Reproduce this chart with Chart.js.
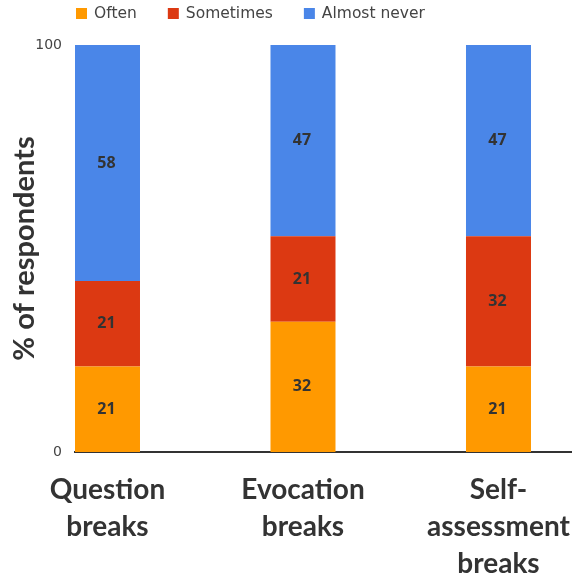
<!DOCTYPE html>
<html>
<head>
<meta charset="utf-8">
<script src="https://cdn.jsdelivr.net/npm/chart.js@4"></script>
<style>
  body { margin: 0; background: #fff; }
</style>
</head>
<body>
<canvas id="chart" width="572" height="576"></canvas>
<script>
const categories = [["Question", "breaks"], ["Evocation", "breaks"], ["Self-", "assessment", "breaks"]];
const seriesNames = ["Often", "Sometimes", "Almost never"];
const often = [21, 32, 21];
const sometimes = [21, 21, 32];
const almostNever = [58, 47, 47];
const yTicks = [0, 100];

const colors = ["#ff9900", "#dc3912", "#4a86e8"];
const labelFont = "Lato, 'Open Sans', sans-serif";

function toPoints(values) {
    return values.map((v, i) => ({ x: i, y: v }));
}

// segment values written in the middle of each bar piece
const valueLabels = {
    id: "valueLabels",
    afterDatasetsDraw(chart) {
        const ctx = chart.ctx;
        ctx.save();
        ctx.font = "bold 16px 'Open Sans', sans-serif";
        ctx.fillStyle = "#333";
        ctx.textAlign = "center";
        ctx.textBaseline = "middle";
        chart.data.datasets.forEach((ds, i) => {
            chart.getDatasetMeta(i).data.forEach((bar, j) => {
                const p = bar.getCenterPoint();
                ctx.fillText(ds.data[j].y, p.x - 1, p.y);
            });
        });
        ctx.restore();
    }
};

// legend at top left, drawn by hand so it can start at the plot's left edge
const topLegend = {
    id: "topLegend",
    afterDraw(chart) {
        const ctx = chart.ctx;
        ctx.save();
        ctx.font = "15.5px 'DejaVu Sans', sans-serif";
        ctx.textBaseline = "middle";
        let x = chart.chartArea.left + 1;
        chart.data.datasets.forEach((ds) => {
            ctx.fillStyle = ds.backgroundColor;
            ctx.fillRect(x, 8, 11, 11);
            ctx.fillStyle = "#444";
            ctx.fillText(ds.label, x + 18, 14);
            x += 18 + ctx.measureText(ds.label).width + 31;
        });
        ctx.restore();
    }
};

new Chart(document.getElementById("chart"), {
    type: "bar",
    data: {
        datasets: [
            { label: seriesNames[0], data: toPoints(often), backgroundColor: colors[0] },
            { label: seriesNames[1], data: toPoints(sometimes), backgroundColor: colors[1] },
            { label: seriesNames[2], data: toPoints(almostNever), backgroundColor: colors[2] }
        ]
    },
    options: {
        responsive: false,
        animation: false,
        layout: { padding: { top: 45, right: 0, left: 0, bottom: 0 } },
        datasets: {
            bar: { barPercentage: 0.3325, categoryPercentage: 1 }
        },
        scales: {
            x: {
                type: "linear",
                stacked: true,
                offset: false,
                min: -0.1662,
                max: 2.376,
                grid: { display: false },
                border: { display: true, color: "#333", width: 2 },
                afterBuildTicks: function(scale) {
                    scale.ticks = categories.map((c, i) => ({ value: i }));
                },
                afterFit: function(scale) {
                    scale.height = 124;
                    scale.paddingLeft = 0;
                    scale.paddingRight = 0;
                },
                ticks: {
                    autoSkip: false,
                    maxRotation: 0,
                    padding: 12,
                    color: "#333",
                    font: { family: labelFont, size: 28, weight: "bold", lineHeight: 1.31 },
                    callback: function(value) {
                        return categories[value];
                    }
                }
            },
            y: {
                stacked: true,
                min: 0,
                max: 100,
                grid: { display: false, drawTicks: false },
                border: { display: false },
                afterBuildTicks: function(scale) {
                    scale.ticks = yTicks.map(v => ({ value: v }));
                },
                afterFit: function(scale) {
                    scale.width = 75;
                },
                ticks: {
                    padding: 13,
                    color: "#444",
                    font: { family: "'DejaVu Sans', sans-serif", size: 14 }
                },
                title: {
                    display: true,
                    text: "% of respondents",
                    color: "#333",
                    padding: { top: 7, bottom: 0 },
                    font: { family: labelFont, size: 29, weight: "bold" }
                }
            }
        },
        plugins: {
            legend: { display: false },
            tooltip: { enabled: false }
        }
    },
    plugins: [valueLabels, topLegend]
});
</script>
</body>
</html>
